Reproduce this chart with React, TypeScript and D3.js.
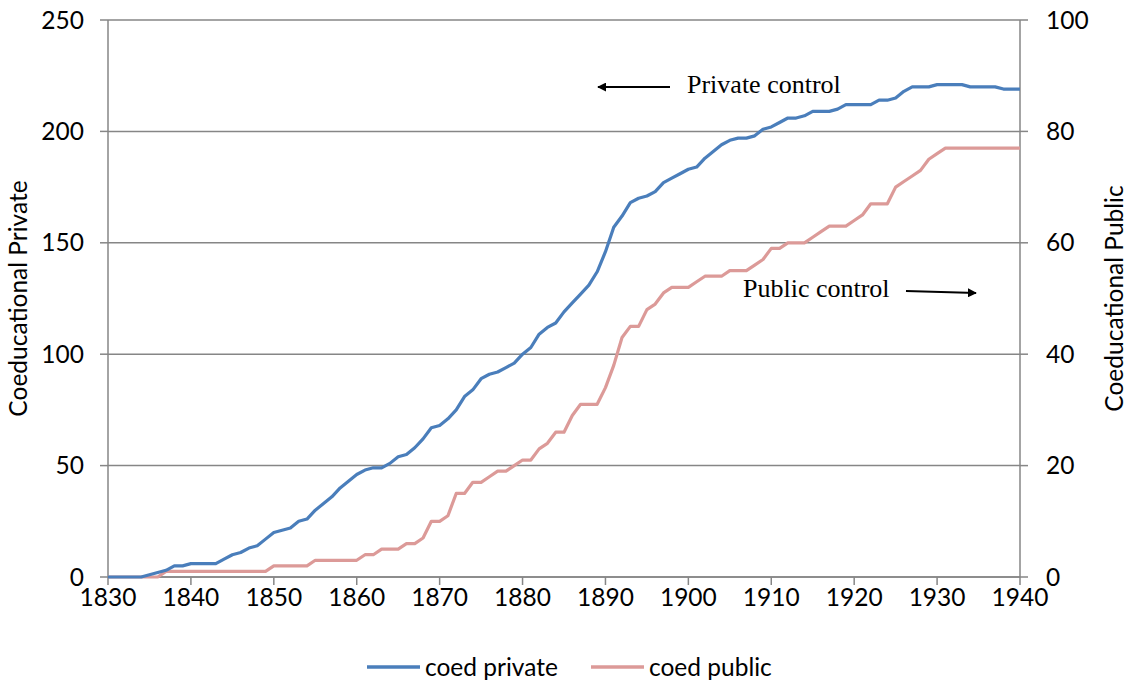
import React from "react";
import * as d3 from "d3";

const years: number[] = d3.range(1830, 1941);

const coedPrivate: number[] = [
  0, 0, 0, 0, 0, 1, 2, 3, 5, 5,
  6, 6, 6, 6, 8, 10, 11, 13, 14, 17,
  20, 21, 22, 25, 26, 30, 33, 36, 40, 43,
  46, 48, 49, 49, 51, 54, 55, 58, 62, 67,
  68, 71, 75, 81, 84, 89, 91, 92, 94, 96,
  100, 103, 109, 112, 114, 119, 123, 127, 131, 137,
  146, 157, 162, 168, 170, 171, 173, 177, 179, 181,
  183, 184, 188, 191, 194, 196, 197, 197, 198, 201,
  202, 204, 206, 206, 207, 209, 209, 209, 210, 212,
  212, 212, 212, 214, 214, 215, 218, 220, 220, 220,
  221, 221, 221, 221, 220, 220, 220, 220, 219, 219,
  219,
];

const coedPublic: number[] = [
  0, 0, 0, 0, 0, 0, 0, 1, 1, 1,
  1, 1, 1, 1, 1, 1, 1, 1, 1, 1,
  2, 2, 2, 2, 2, 3, 3, 3, 3, 3,
  3, 4, 4, 5, 5, 5, 6, 6, 7, 10,
  10, 11, 15, 15, 17, 17, 18, 19, 19, 20,
  21, 21, 23, 24, 26, 26, 29, 31, 31, 31,
  34, 38, 43, 45, 45, 48, 49, 51, 52, 52,
  52, 53, 54, 54, 54, 55, 55, 55, 56, 57,
  59, 59, 60, 60, 60, 61, 62, 63, 63, 63,
  64, 65, 67, 67, 67, 70, 71, 72, 73, 75,
  76, 77, 77, 77, 77, 77, 77, 77, 77, 77,
  77,
];

const xTicks: number[] = [1830, 1840, 1850, 1860, 1870, 1880, 1890, 1900, 1910, 1920, 1930, 1940];
const leftTicks: number[] = [0, 50, 100, 150, 200, 250];
const rightTicks: number[] = [0, 20, 40, 60, 80, 100];
const seriesNames: string[] = ["coed private", "coed public"];
const leftTitle = "Coeducational Private";
const rightTitle = "Coeducational Public";
const annotations: string[] = ["Private control", "Public control"];

const BLUE = "#4a7ebb";
const PINK = "#dc9a98";
const GREY = "#868686";
const FONT = "Lato, 'Open Sans', sans-serif";
const SERIF = "'Liberation Serif', 'Times New Roman', serif";

export default function App() {
  const W = 1130;
  const H = 683;
  const left = 108;
  const right = 1020;
  const top = 20;
  const bottom = 577;

  const x = d3.scaleLinear().domain([1830, 1940]).range([left, right]);
  const yL = d3.scaleLinear().domain([0, 250]).range([bottom, top]);
  const yR = d3.scaleLinear().domain([0, 100]).range([bottom, top]);

  const linePriv = d3
    .line<number>()
    .x((_, i) => x(years[i]))
    .y((d) => yL(d));
  const linePub = d3
    .line<number>()
    .x((_, i) => x(years[i]))
    .y((d) => yR(d));

  const fs = 24.5;

  return (
    <svg
      width={W}
      height={H}
      style={{ position: "absolute", left: 0, top: 0, background: "#fff" }}
      xmlns="http://www.w3.org/2000/svg"
    >
      <defs>
        <marker id="arrow" viewBox="0 0 10 10" refX="9" refY="5" markerWidth="5" markerHeight="5" orient="auto-start-reverse">
          <path d="M0,0 L10,5 L0,10 z" fill="#000" />
        </marker>
      </defs>
      <rect x={0} y={0} width={W} height={H} fill="#fff" />

      {leftTicks.map((t) => (
        <line key={"g" + t} x1={left} x2={right} y1={yL(t)} y2={yL(t)} stroke={GREY} strokeWidth={1.5} />
      ))}
      <line x1={left} x2={left} y1={top} y2={bottom} stroke={GREY} strokeWidth={1.5} />
      {leftTicks.map((t) => (
        <g key={"lt" + t}>
          <line x1={left - 8} x2={left} y1={yL(t)} y2={yL(t)} stroke={GREY} strokeWidth={1.5} />
          <text x={84} y={yL(t)} dy="0.35em" textAnchor="end" fontFamily={FONT} fontSize={fs} fill="#000">
            {t}
          </text>
        </g>
      ))}
      <line x1={right} x2={right} y1={top} y2={bottom} stroke={GREY} strokeWidth={1.5} />
      {rightTicks.map((t) => (
        <g key={"rt" + t}>
          <line x1={right} x2={right + 8} y1={yR(t)} y2={yR(t)} stroke={GREY} strokeWidth={1.5} />
          <text x={1046} y={yR(t)} dy="0.35em" textAnchor="start" fontFamily={FONT} fontSize={fs} fill="#000">
            {t}
          </text>
        </g>
      ))}
      <line x1={left} x2={right} y1={bottom} y2={bottom} stroke={GREY} strokeWidth={1.5} />
      {xTicks.map((t) => (
        <g key={"xt" + t}>
          <line x1={x(t)} x2={x(t)} y1={bottom} y2={bottom + 8} stroke={GREY} strokeWidth={1.5} />
          <text x={x(t)} y={bottom + 20} dy="0.35em" textAnchor="middle" fontFamily={FONT} fontSize={fs} fill="#000">
            {t}
          </text>
        </g>
      ))}

      <text
        transform={`translate(18,${(top + bottom) / 2}) rotate(-90)`}
        textAnchor="middle"
        dy="0.35em"
        fontFamily={FONT}
        fontSize={fs}
        fill="#000"
      >
        {leftTitle}
      </text>
      <text
        transform={`translate(1114,${(top + bottom) / 2}) rotate(-90)`}
        textAnchor="middle"
        dy="0.35em"
        fontFamily={FONT}
        fontSize={fs}
        fill="#000"
      >
        {rightTitle}
      </text>

      <path d={linePub(coedPublic) || ""} fill="none" stroke={PINK} strokeWidth={3.2} strokeLinejoin="round" />
      <path d={linePriv(coedPrivate) || ""} fill="none" stroke={BLUE} strokeWidth={3.2} strokeLinejoin="round" />

      <text x={687} y={93} fontFamily={SERIF} fontSize={26} fill="#000">
        {annotations[0]}
      </text>
      <line x1={670} y1={87} x2={598} y2={87} stroke="#000" strokeWidth={1.8} markerEnd="url(#arrow)" />
      <text x={743} y={297} fontFamily={SERIF} fontSize={26} fill="#000">
        {annotations[1]}
      </text>
      <line x1={906} y1={291} x2={976} y2={293} stroke="#000" strokeWidth={1.8} markerEnd="url(#arrow)" />

      <line x1={367} x2={420} y1={667} y2={667} stroke={BLUE} strokeWidth={3.5} />
      <text x={425} y={667} dy="0.35em" fontFamily={FONT} fontSize={fs} fill="#000">
        {seriesNames[0]}
      </text>
      <line x1={591} x2={644} y1={667} y2={667} stroke={PINK} strokeWidth={3.5} />
      <text x={649} y={667} dy="0.35em" fontFamily={FONT} fontSize={fs} fill="#000">
        {seriesNames[1]}
      </text>
    </svg>
  );
}
